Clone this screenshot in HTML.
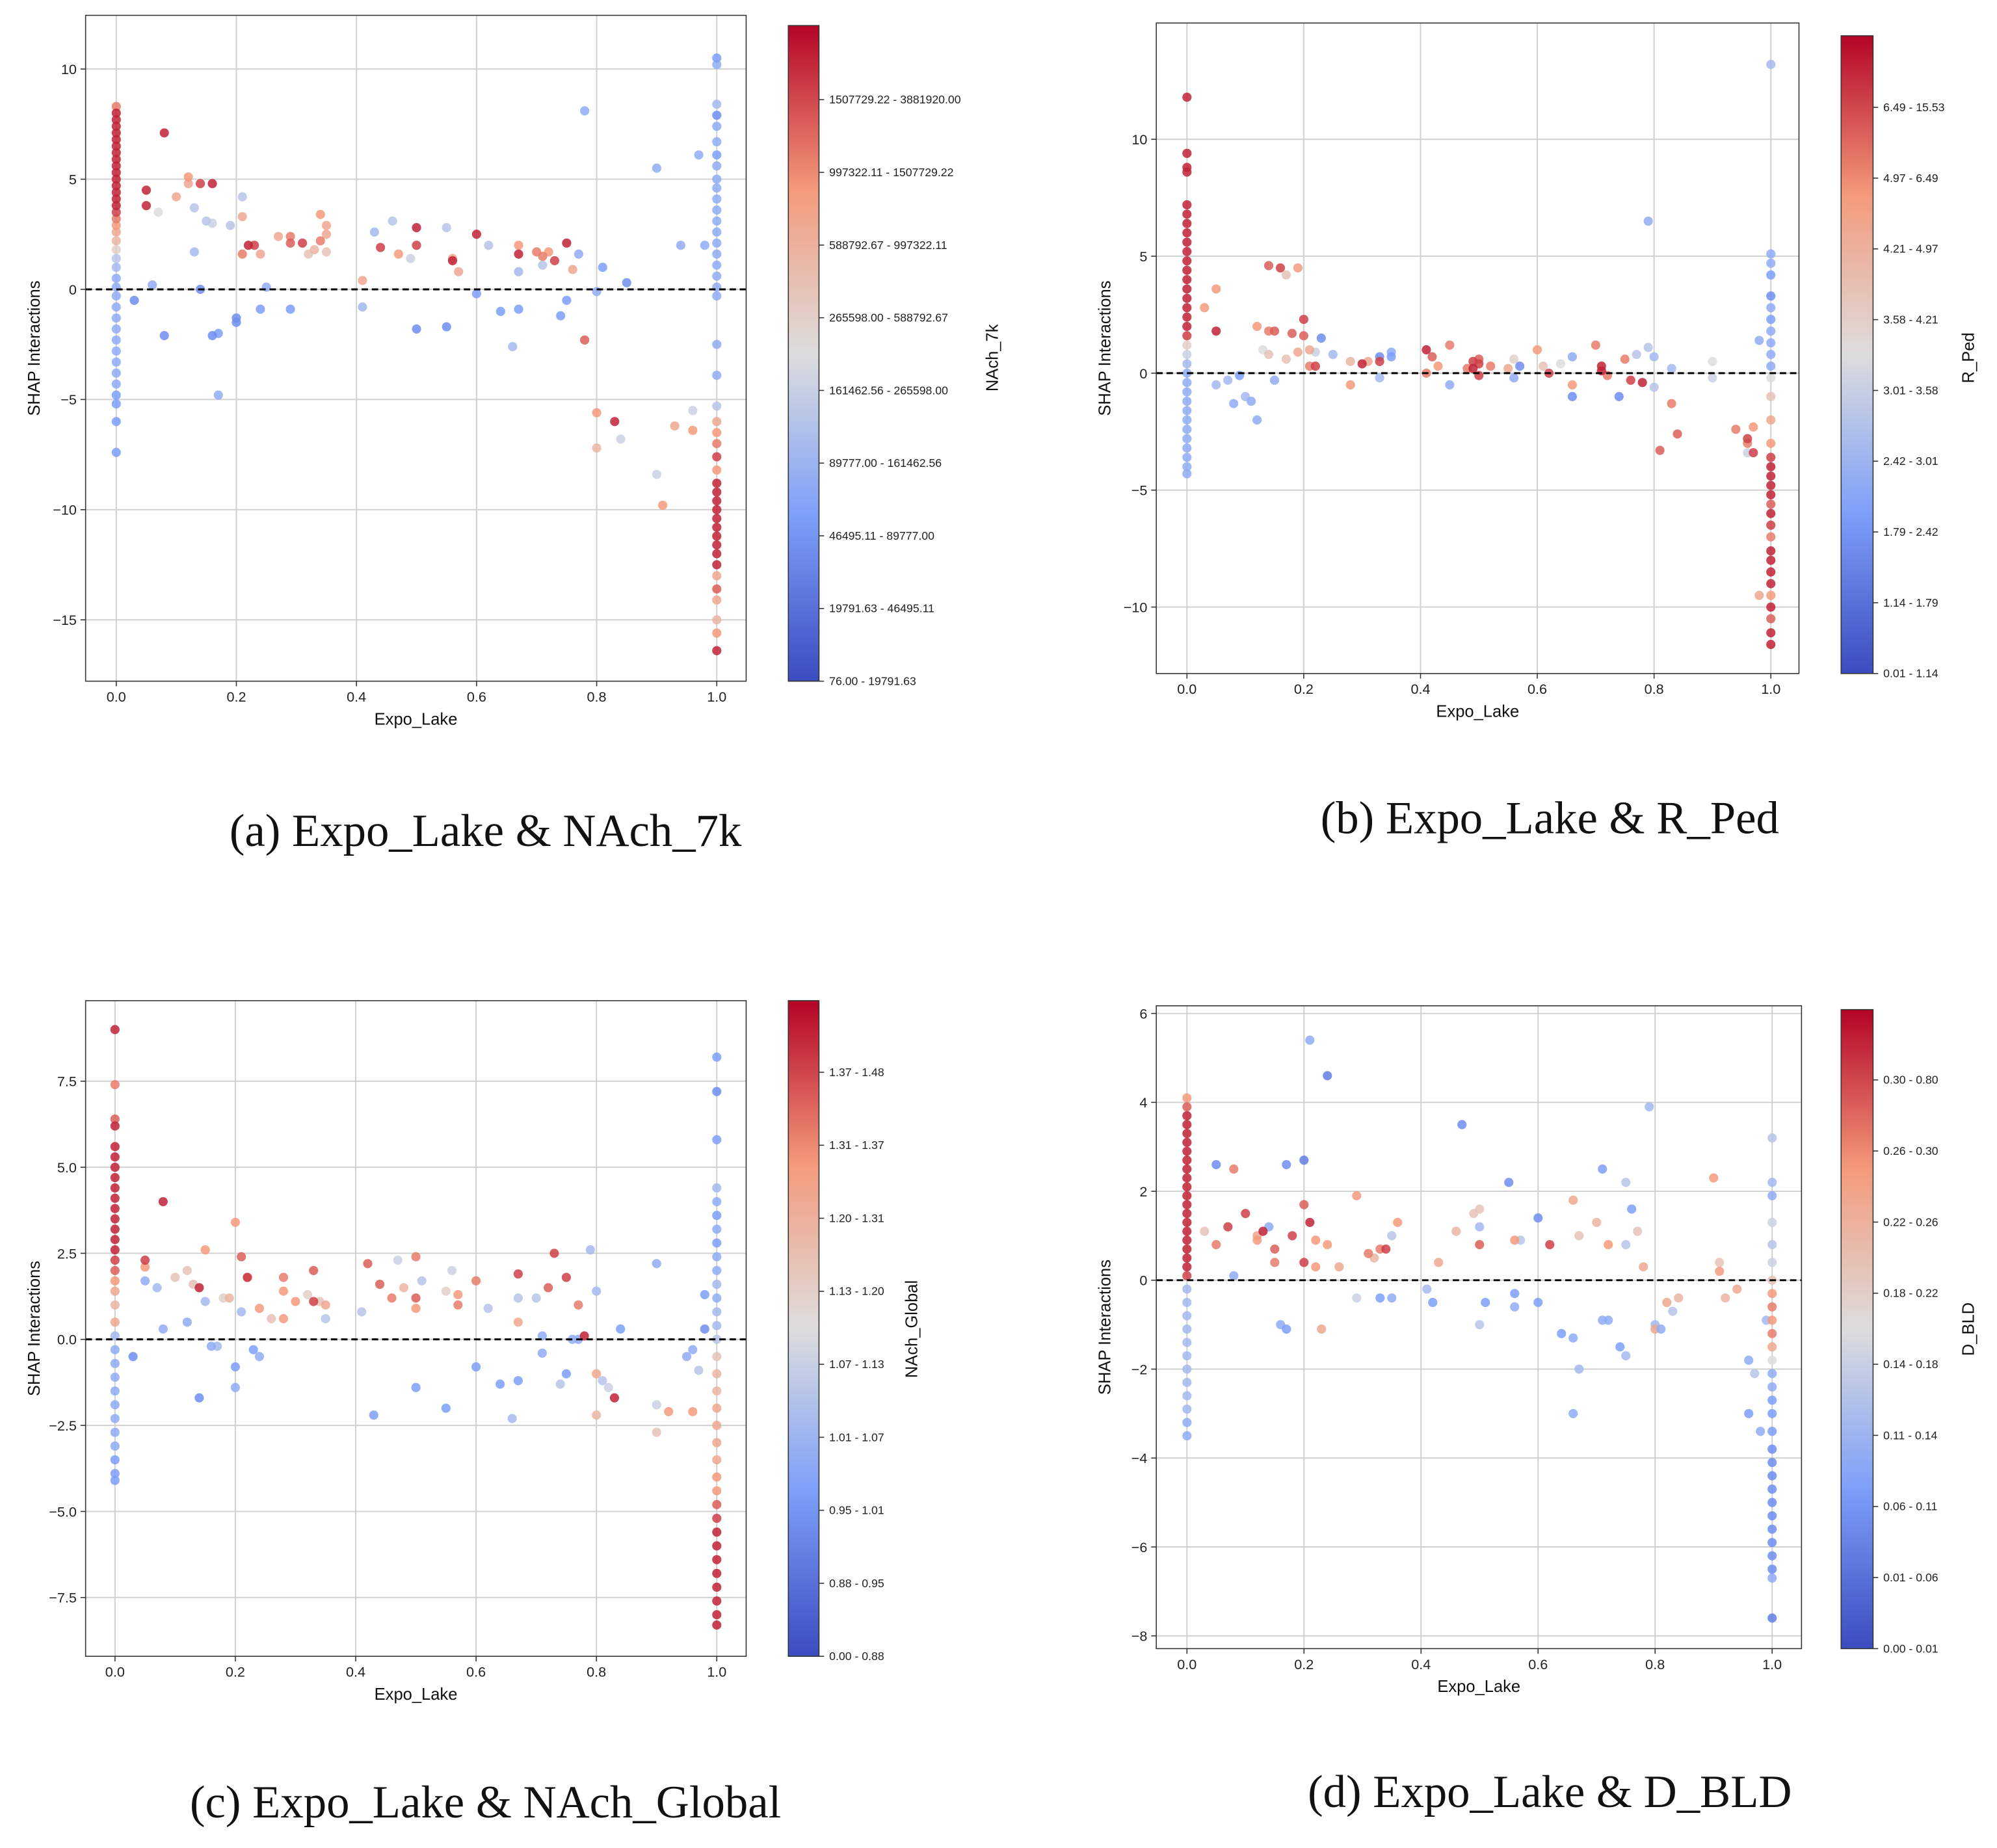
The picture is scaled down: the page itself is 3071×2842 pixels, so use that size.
<!DOCTYPE html>
<html><head><meta charset="utf-8"><style>
html,body{margin:0;padding:0;background:#fff;}
svg{display:block;}
text{font-family:"Liberation Sans","Noto Sans CJK SC",sans-serif;}
text.cap{font-family:"Liberation Serif",serif;}
</style></head><body>
<svg id="fig" width="3071" height="2842" viewBox="0 0 1563 1446" preserveAspectRatio="none" xmlns="http://www.w3.org/2000/svg">
<defs>
<linearGradient id="cw" x1="0" y1="1" x2="0" y2="0">
<stop offset="0" stop-color="rgb(59,76,192)"/>
<stop offset="0.25" stop-color="rgb(124,159,249)"/>
<stop offset="0.5" stop-color="rgb(221,221,221)"/>
<stop offset="0.75" stop-color="rgb(244,154,123)"/>
<stop offset="1" stop-color="rgb(180,4,38)"/>
</linearGradient>
</defs>
</svg>
<script>
// ---------- data ----------
const xTicks = [0, 0.2, 0.4, 0.6, 0.8, 1.0];
const xTickLabels = ["0.0","0.2","0.4","0.6","0.8","1.0"];

const yTicksA = [10,5,0,-5,-10,-15];
const yTickLabelsA = ["10","5","0","−5","−10","−15"];
const cbLabelsA = ["76.00 - 19791.63","19791.63 - 46495.11","46495.11 - 89777.00","89777.00 - 161462.56","161462.56 - 265598.00","265598.00 - 588792.67","588792.67 - 997322.11","997322.11 - 1507729.22","1507729.22 - 3881920.00"];
const ptsA = [[0.03,-0.5,.2],[0.05,4.5,.95],[0.05,3.8,.95],[0.06,0.2,.3],[0.07,3.5,.5],[0.08,7.1,.95],[0.08,-2.1,.2],[0.1,4.2,.7],[0.12,5.1,.75],[0.12,4.8,.7],[0.13,1.7,.35],[0.13,3.7,.4],[0.14,0,.2],[0.14,4.8,.9],[0.15,3.1,.4],[0.16,4.8,.95],[0.16,3,.45],[0.16,-2.1,.2],[0.17,-2,.25],[0.17,-4.8,.3],[0.19,2.9,.4],[0.2,-1.3,.2],[0.2,-1.5,.2],[0.21,4.2,.4],[0.21,3.3,.7],[0.21,1.6,.8],[0.22,2,.95],[0.23,2,.9],[0.24,-0.9,.25],[0.24,1.6,.7],[0.25,0.1,.3],[0.27,2.4,.7],[0.29,2.4,.8],[0.29,2.1,.85],[0.29,-0.9,.25],[0.31,2.1,.9],[0.32,1.6,.6],[0.33,1.8,.65],[0.34,3.4,.75],[0.34,2.2,.8],[0.35,2.9,.7],[0.35,1.7,.6],[0.35,2.5,.7],[0.41,0.4,.7],[0.41,-0.8,.35],[0.43,2.6,.35],[0.44,1.9,.9],[0.46,3.1,.4],[0.47,1.6,.75],[0.49,1.4,.45],[0.5,2.8,.95],[0.5,2,.9],[0.5,-1.8,.2],[0.55,-1.7,.2],[0.55,2.8,.4],[0.56,1.4,.7],[0.56,1.3,.95],[0.57,0.8,.7],[0.6,2.5,.95],[0.6,-0.2,.25],[0.62,2,.4],[0.64,-1,.25],[0.66,-2.6,.35],[0.67,-0.9,.25],[0.67,2,.75],[0.67,1.6,.95],[0.67,0.8,.35],[0.7,1.7,.8],[0.71,1.1,.4],[0.71,1.5,.8],[0.72,1.7,.75],[0.73,1.3,.9],[0.74,-1.2,.25],[0.75,-0.5,.25],[0.75,2.1,.95],[0.76,0.9,.7],[0.77,1.6,.3],[0.78,-2.3,.85],[0.78,8.1,.3],[0.8,-0.1,.3],[0.8,-5.6,.75],[0.8,-7.2,.65],[0.81,1,.25],[0.83,-6,.95],[0.84,-6.8,.45],[0.85,0.3,.2],[0.9,-8.4,.45],[0.9,5.5,.3],[0.91,-9.8,.75],[0.93,-6.2,.7],[0.94,2,.3],[0.96,-6.4,.75],[0.96,-5.5,.45],[0.97,6.1,.3],[0.98,2,.3]];
const colA0 = [[8.3,.8],[8.0,.95],[7.7,.95],[7.4,.95],[7.1,.95],[6.8,.95],[6.5,.95],[6.2,.95],[5.9,.95],[5.6,.95],[5.3,.95],[5.0,.95],[4.7,.95],[4.4,.95],[4.1,.95],[3.8,.95],[3.5,.9],[3.2,.8],[2.9,.75],[2.6,.7],[2.2,.65],[1.8,.55],[1.4,.4],[1.0,.35],[0.5,.3],[0.1,.3],[-0.3,.3],[-0.8,.3],[-1.3,.3],[-1.8,.3],[-2.3,.3],[-2.8,.3],[-3.3,.3],[-3.8,.3],[-4.3,.3],[-4.8,.25],[-5.2,.25],[-6.0,.25],[-7.4,.25]];
const colA1 = [[10.5,.25],[10.2,.3],[8.4,.35],[7.9,.2],[7.4,.3],[6.7,.3],[6.1,.25],[5.6,.3],[5.0,.3],[4.6,.3],[4.1,.3],[3.6,.3],[3.1,.3],[2.6,.3],[2.1,.3],[1.6,.3],[1.1,.3],[0.6,.3],[0.1,.3],[-0.3,.3],[-2.5,.3],[-3.9,.3],[-5.3,.4],[-6.0,.7],[-6.5,.75],[-7.0,.8],[-7.6,.9],[-8.2,.75],[-8.8,.95],[-9.2,.95],[-9.6,.95],[-10.0,.95],[-10.4,.95],[-10.8,.95],[-11.2,.95],[-11.6,.95],[-12.0,.95],[-12.5,.95],[-13.0,.7],[-13.6,.85],[-14.1,.7],[-15.0,.65],[-15.6,.75],[-16.4,.95]];

const yTicksB = [10,5,0,-5,-10];
const yTickLabelsB = ["10","5","0","−5","−10"];
const cbLabelsB = ["0.01 - 1.14","1.14 - 1.79","1.79 - 2.42","2.42 - 3.01","3.01 - 3.58","3.58 - 4.21","4.21 - 4.97","4.97 - 6.49","6.49 - 15.53"];
const ptsB = [[0.03,2.8,.75],[0.05,3.6,.75],[0.05,1.8,.95],[0.05,-0.5,.35],[0.07,-0.3,.35],[0.08,-1.3,.3],[0.09,-0.1,.25],[0.1,-1,.35],[0.11,-1.2,.3],[0.12,-2,.3],[0.12,2,.75],[0.13,1,.5],[0.14,4.6,.85],[0.14,1.8,.8],[0.14,0.8,.6],[0.15,1.8,.85],[0.15,-0.3,.3],[0.16,4.5,.9],[0.17,4.2,.6],[0.17,0.6,.6],[0.18,1.7,.85],[0.19,0.9,.7],[0.19,4.5,.75],[0.2,2.3,.9],[0.2,1.6,.85],[0.21,1,.7],[0.21,0.3,.8],[0.22,0.3,.9],[0.22,0.9,.45],[0.23,1.5,.2],[0.25,0.8,.35],[0.28,0.5,.65],[0.28,-0.5,.75],[0.3,0.4,.95],[0.31,0.5,.7],[0.33,0.7,.2],[0.33,0.5,.9],[0.33,-0.2,.35],[0.35,0.9,.3],[0.35,0.7,.25],[0.41,1,.95],[0.41,0,.8],[0.42,0.7,.85],[0.43,0.3,.75],[0.45,1.2,.8],[0.45,-0.5,.3],[0.48,0.2,.8],[0.49,0.5,.9],[0.49,0.2,.95],[0.5,0.6,.85],[0.5,0.4,.9],[0.5,-0.1,.9],[0.52,0.3,.8],[0.55,0.2,.7],[0.56,0.6,.55],[0.56,-0.2,.3],[0.57,0.3,.2],[0.6,1,.75],[0.61,0.3,.6],[0.62,0,.9],[0.64,0.4,.5],[0.66,-1,.2],[0.66,0.7,.3],[0.66,-0.5,.75],[0.7,1.2,.8],[0.71,0.1,.95],[0.71,0.3,.95],[0.72,-0.1,.8],[0.74,-1,.2],[0.75,0.6,.8],[0.76,-0.3,.9],[0.77,0.8,.4],[0.78,-0.4,.95],[0.79,6.5,.3],[0.79,1.1,.4],[0.8,0.7,.35],[0.8,-0.6,.4],[0.81,-3.3,.85],[0.83,-1.3,.8],[0.83,0.2,.35],[0.84,-2.6,.85],[0.9,-0.2,.45],[0.9,0.5,.5],[0.94,-2.4,.8],[0.96,-3,.8],[0.96,-2.8,.9],[0.96,-3.4,.45],[0.97,-3.4,.9],[0.97,-2.3,.75],[0.98,1.4,.3],[0.98,-9.5,.7]];
const colB0 = [[11.8,.95],[9.4,.95],[8.8,.95],[8.6,.95],[7.2,.95],[6.8,.95],[6.4,.95],[6.0,.95],[5.6,.95],[5.2,.95],[4.8,.95],[4.4,.95],[4.0,.95],[3.6,.95],[3.2,.95],[2.8,.95],[2.4,.95],[2.0,.95],[1.6,.9],[1.2,.55],[0.8,.45],[0.4,.35],[0.0,.3],[-0.4,.3],[-0.8,.3],[-1.2,.3],[-1.6,.3],[-2.0,.3],[-2.4,.3],[-2.8,.3],[-3.2,.3],[-3.6,.3],[-4.0,.3],[-4.3,.3]];
const colB1 = [[13.2,.35],[5.1,.3],[4.7,.3],[4.2,.25],[3.3,.2],[2.8,.3],[2.3,.25],[1.8,.3],[1.3,.3],[0.8,.3],[0.3,.3],[-0.2,.5],[-1.0,.6],[-2.0,.7],[-3.0,.75],[-3.6,.9],[-4.0,.95],[-4.4,.95],[-4.8,.95],[-5.2,.95],[-5.6,.85],[-6.0,.95],[-6.5,.9],[-7.0,.8],[-7.6,.95],[-8.0,.95],[-8.5,.95],[-9.0,.95],[-9.5,.75],[-10.0,.95],[-10.5,.85],[-11.1,.95],[-11.6,.95]];

const yTicksC = [7.5,5,2.5,0,-2.5,-5,-7.5];
const yTickLabelsC = ["7.5","5.0","2.5","0.0","−2.5","−5.0","−7.5"];
const cbLabelsC = ["0.00 - 0.88","0.88 - 0.95","0.95 - 1.01","1.01 - 1.07","1.07 - 1.13","1.13 - 1.20","1.20 - 1.31","1.31 - 1.37","1.37 - 1.48"];
const ptsC = [[0.03,-0.5,.2],[0.05,2.3,.9],[0.05,2.1,.75],[0.05,1.7,.3],[0.07,1.5,.35],[0.08,4,.95],[0.08,0.3,.3],[0.1,1.8,.6],[0.12,2,.6],[0.12,0.5,.3],[0.13,1.6,.6],[0.14,-1.7,.2],[0.14,1.5,.95],[0.15,2.6,.75],[0.15,1.1,.35],[0.16,-0.2,.3],[0.17,-0.2,.35],[0.18,1.2,.55],[0.19,1.2,.65],[0.2,-0.8,.25],[0.2,-1.4,.3],[0.2,3.4,.75],[0.21,0.8,.35],[0.21,2.4,.85],[0.22,1.8,.85],[0.22,1.8,.9],[0.23,-0.3,.25],[0.24,-0.5,.3],[0.24,0.9,.75],[0.26,0.6,.6],[0.28,1.8,.8],[0.28,0.6,.75],[0.28,1.4,.75],[0.3,1.1,.75],[0.32,1.3,.55],[0.33,2,.85],[0.33,1.1,.9],[0.34,1.1,.6],[0.35,1,.7],[0.35,0.6,.4],[0.41,0.8,.4],[0.42,2.2,.85],[0.43,-2.2,.25],[0.44,1.6,.85],[0.46,1.2,.8],[0.47,2.3,.45],[0.48,1.5,.65],[0.5,-1.4,.25],[0.5,2.4,.8],[0.5,1.2,.85],[0.5,0.9,.75],[0.51,1.7,.4],[0.55,-2,.25],[0.55,1.4,.55],[0.56,2,.45],[0.57,1.3,.75],[0.57,1,.8],[0.6,-0.8,.25],[0.6,1.7,.8],[0.62,0.9,.4],[0.64,-1.3,.25],[0.66,-2.3,.35],[0.67,-1.2,.25],[0.67,1.9,.9],[0.67,0.5,.7],[0.67,1.2,.4],[0.7,1.2,.4],[0.71,0.1,.3],[0.71,-0.4,.3],[0.72,1.5,.85],[0.73,2.5,.9],[0.74,-1.3,.4],[0.75,1.8,.9],[0.75,-1,.25],[0.76,0,.3],[0.77,0,.3],[0.77,1,.8],[0.78,0.1,.95],[0.79,2.6,.35],[0.8,1.4,.35],[0.8,-1,.7],[0.8,-2.2,.65],[0.81,-1.2,.4],[0.82,-1.4,.45],[0.83,-1.7,.95],[0.84,0.3,.25],[0.9,-1.9,.45],[0.9,-2.7,.6],[0.92,-2.1,.75],[0.9,2.2,.3],[0.95,-0.5,.3],[0.96,-0.3,.3],[0.96,-2.1,.75],[0.97,-0.9,.4],[0.98,0.3,.2],[0.98,1.3,.25]];
const colC0 = [[9.0,.95],[7.4,.8],[6.4,.85],[6.2,.95],[5.6,.95],[5.3,.95],[5.0,.95],[4.7,.95],[4.4,.95],[4.1,.95],[3.8,.95],[3.5,.95],[3.2,.95],[2.9,.95],[2.6,.95],[2.3,.9],[2.0,.85],[1.7,.75],[1.4,.7],[1.0,.65],[0.5,.7],[0.1,.35],[-0.3,.3],[-0.7,.3],[-1.1,.3],[-1.5,.3],[-1.9,.3],[-2.3,.3],[-2.7,.3],[-3.1,.3],[-3.5,.25],[-3.9,.25],[-4.1,.25]];
const colC1 = [[8.2,.25],[7.2,.2],[5.8,.25],[4.4,.35],[4.0,.3],[3.6,.25],[3.2,.3],[2.8,.25],[2.4,.3],[2.0,.3],[1.6,.35],[1.2,.3],[0.8,.35],[0.4,.35],[0.0,.4],[-0.5,.6],[-1.0,.65],[-1.5,.65],[-2.0,.7],[-2.5,.7],[-3.0,.7],[-3.5,.7],[-4.0,.75],[-4.4,.75],[-4.8,.85],[-5.2,.9],[-5.6,.95],[-6.0,.95],[-6.4,.95],[-6.8,.95],[-7.2,.95],[-7.6,.95],[-8.0,.95],[-8.3,.95]];

const yTicksD = [6,4,2,0,-2,-4,-6,-8];
const yTickLabelsD = ["6","4","2","0","−2","−4","−6","−8"];
const cbLabelsD = ["0.00 - 0.01","0.01 - 0.06","0.06 - 0.11","0.11 - 0.14","0.14 - 0.18","0.18 - 0.22","0.22 - 0.26","0.26 - 0.30","0.30 - 0.80"];
const ptsD = [[0.03,1.1,.6],[0.05,2.6,.2],[0.05,0.8,.8],[0.07,1.2,.9],[0.08,0.1,.3],[0.08,2.5,.8],[0.1,1.5,.9],[0.12,1,.7],[0.12,0.9,.75],[0.13,1.1,.95],[0.14,1.2,.3],[0.15,0.4,.8],[0.15,0.7,.85],[0.16,-1,.3],[0.17,-1.1,.25],[0.17,2.6,.2],[0.18,1,.9],[0.2,2.7,.15],[0.2,1.7,.85],[0.2,0.4,.9],[0.21,5.4,.3],[0.21,1.3,.95],[0.22,0.3,.75],[0.22,0.9,.75],[0.23,-1.1,.7],[0.24,4.6,.15],[0.24,0.8,.75],[0.26,0.3,.7],[0.29,1.9,.75],[0.29,-0.4,.45],[0.31,0.6,.8],[0.32,0.5,.65],[0.33,0.7,.8],[0.33,-0.4,.25],[0.34,0.7,.9],[0.35,1,.4],[0.35,-0.4,.3],[0.36,1.3,.75],[0.41,-0.2,.35],[0.42,-0.5,.25],[0.43,0.4,.7],[0.46,1.1,.65],[0.47,3.5,.2],[0.49,1.5,.6],[0.5,1.6,.6],[0.5,-1,.4],[0.5,0.8,.85],[0.5,1.2,.35],[0.51,-0.5,.25],[0.55,2.2,.2],[0.56,0.9,.75],[0.56,-0.3,.25],[0.56,-0.6,.3],[0.57,0.9,.4],[0.6,1.4,.2],[0.6,-0.5,.25],[0.62,0.8,.9],[0.64,-1.2,.25],[0.66,1.8,.7],[0.66,-3,.3],[0.66,-1.3,.3],[0.67,-2,.35],[0.67,1,.6],[0.7,1.3,.65],[0.71,2.5,.25],[0.71,-0.9,.3],[0.72,-0.9,.3],[0.72,0.8,.75],[0.74,-1.5,.25],[0.75,-1.7,.35],[0.75,0.8,.4],[0.75,2.2,.4],[0.76,1.6,.25],[0.77,1.1,.6],[0.78,0.3,.7],[0.79,3.9,.35],[0.8,-1,.35],[0.8,-1.1,.7],[0.81,-1.1,.3],[0.82,-0.5,.7],[0.83,-0.7,.4],[0.84,-0.4,.65],[0.9,2.3,.75],[0.91,0.4,.6],[0.91,0.2,.75],[0.92,-0.4,.65],[0.94,-0.2,.7],[0.96,-1.8,.3],[0.96,-3,.25],[0.97,-2.1,.4],[0.98,-3.4,.3],[0.99,-0.9,.35]];
const colD0 = [[4.1,.75],[3.9,.85],[3.7,.95],[3.5,.95],[3.3,.95],[3.1,.95],[2.9,.95],[2.7,.95],[2.5,.95],[2.3,.95],[2.1,.95],[1.9,.95],[1.7,.95],[1.5,.95],[1.3,.95],[1.1,.95],[0.9,.95],[0.7,.95],[0.5,.95],[0.3,.95],[0.1,.9],[-0.2,.35],[-0.5,.35],[-0.8,.35],[-1.1,.35],[-1.4,.35],[-1.7,.35],[-2.0,.35],[-2.3,.35],[-2.6,.35],[-2.9,.35],[-3.2,.3],[-3.5,.3]];
const colD1 = [[3.2,.4],[2.2,.35],[1.9,.3],[1.3,.45],[0.8,.4],[0.4,.45],[0.0,.6],[-0.3,.75],[-0.6,.8],[-0.9,.75],[-1.2,.8],[-1.5,.7],[-1.8,.5],[-2.1,.3],[-2.4,.3],[-2.7,.25],[-3.0,.25],[-3.4,.25],[-3.8,.2],[-4.1,.2],[-4.4,.2],[-4.7,.2],[-5.0,.2],[-5.3,.2],[-5.6,.2],[-5.9,.2],[-6.2,.2],[-6.5,.2],[-6.7,.3],[-7.6,.15]];

// ---------- layout ----------
const panels = [
 {id:'a', pts:ptsA, c0:colA0, c1:colA1, yT:yTicksA, yL:yTickLabelsA, cb:cbLabelsA, cbT:'NAch_7k', cap:'(a) Expo_Lake & NAch_7k',
  box:[67,12,584,533], x0:91, x1:561, yv:[10,-15], yp:[54,485], cbBox:[617,20,641,533], cbY:[533,78], cbTitle:[781,280], capPos:[380,662]},
 {id:'b', pts:ptsB, c0:colB0, c1:colB1, yT:yTicksB, yL:yTickLabelsB, cb:cbLabelsB, cbT:'R_Ped', cap:'(b) Expo_Lake & R_Ped',
  box:[905,18,1408,527], x0:929, x1:1386, yv:[10,-10], yp:[109,475], cbBox:[1441,28,1466,527], cbY:[527,84], cbTitle:[1545,280], capPos:[1213,652]},
 {id:'c', pts:ptsC, c0:colC0, c1:colC1, yT:yTicksC, yL:yTickLabelsC, cb:cbLabelsC, cbT:'NAch_Global', cap:'(c) Expo_Lake & NAch_Global',
  box:[67,783,584,1296], x0:90, x1:561, yv:[7.5,-7.5], yp:[846,1250], cbBox:[617,783,641,1296], cbY:[1296,839], cbTitle:[718,1040], capPos:[380,1422]},
 {id:'d', pts:ptsD, c0:colD0, c1:colD1, yT:yTicksD, yL:yTickLabelsD, cb:cbLabelsD, cbT:'D_BLD', cap:'(d) Expo_Lake & D_BLD',
  box:[905,787,1410,1290], x0:929, x1:1387, yv:[6,-8], yp:[793,1280], cbBox:[1441,790,1466,1290], cbY:[1290,845], cbTitle:[1545,1040], capPos:[1213,1414]}
];

const NS='http://www.w3.org/2000/svg';
const svg=document.getElementById('fig');
function mk(tag, attrs, parent){
  const e=document.createElementNS(NS,tag);
  for(const k in attrs) e.setAttribute(k,attrs[k]);
  (parent||svg).appendChild(e); return e;
}
const stops=[[0,[59,76,192]],[0.25,[124,159,249]],[0.5,[221,221,221]],[0.75,[244,154,123]],[1,[180,4,38]]];
function cw(t){
  t=Math.max(0,Math.min(1,t));
  for(let i=0;i<stops.length-1;i++){
    const [a,ca]=stops[i],[b,cb]=stops[i+1];
    if(t<=b){const f=(t-a)/(b-a);return 'rgb('+ca.map((v,j)=>Math.round(v+(cb[j]-v)*f)).join(',')+')';}
  }
  return 'rgb(180,4,38)';
}

panels.forEach(p=>{
  const g=mk('g',{});
  
  
  const sx=v=>p.x0+(p.x1-p.x0)*v;
  const sy=v=>p.yp[0]+(p.yp[1]-p.yp[0])*(v-p.yv[0])/(p.yv[1]-p.yv[0]);
  const [L,T,R,B]=p.box;
  xTicks.forEach((t,i)=>{
    const gl=mk('line',{x1:sx(t),x2:sx(t),y1:T,y2:B,stroke:'#d0d0d0','stroke-width':1},g);
    
    
    mk('line',{x1:sx(t),x2:sx(t),y1:B,y2:B+4,stroke:'#333','stroke-width':0.8},g);
    const tl=mk('text',{x:sx(t),y:B+16,'font-size':11,'text-anchor':'middle',fill:'#222'},g);
    tl.textContent=xTickLabels[i];
    
    
  });
  p.yT.forEach((t,i)=>{
    const gl=mk('line',{x1:L,x2:R,y1:sy(t),y2:sy(t),stroke:'#d0d0d0','stroke-width':1},g);
    
    
    mk('line',{x1:L-4,x2:L,y1:sy(t),y2:sy(t),stroke:'#333','stroke-width':0.8},g);
    const tl=mk('text',{x:L-7,y:sy(t)+4,'font-size':11,'text-anchor':'end',fill:'#222'},g);
    tl.textContent=p.yL[i];
    
    
  });
  const all=[];
  p.c0.forEach(d=>all.push([0,d[0],d[1]]));
  p.c1.forEach(d=>all.push([1,d[0],d[1]]));
  p.pts.forEach(d=>all.push(d));
  all.sort((a,b)=>Math.abs(a[2]-0.5)-Math.abs(b[2]-0.5));
  all.forEach(d=>{
    const c=mk('circle',{cx:sx(d[0]),cy:sy(d[1]),r:3.6,fill:cw(d[2]),'fill-opacity':0.85},g);
    
    
  });
  const z=mk('line',{x1:L,x2:R,y1:sy(0),y2:sy(0),stroke:'#000','stroke-width':1.5,'stroke-dasharray':'5,3'},g);
  
  
  const fr=mk('rect',{x:L,y:T,width:R-L,height:B-T,fill:'none',stroke:'#333','stroke-width':0.8},g);
  
  
  const xt=mk('text',{x:(L+R)/2,y:B+34,'font-size':13,'text-anchor':'middle',fill:'#111'},g);
  xt.textContent='Expo_Lake';
  
  
  const yx=L-36, yy=(T+B)/2;
  const yt=mk('text',{x:yx,y:yy,'font-size':13,'text-anchor':'middle',fill:'#111',transform:'rotate(-90 '+yx+' '+yy+')'},g);
  yt.textContent='SHAP Interactions';
  
  
  const [cl,ct,cr,cbm]=p.cbBox;
  const cbr=mk('rect',{x:cl,y:ct,width:cr-cl,height:cbm-ct,fill:'url(#cw)',stroke:'#333','stroke-width':0.8},g);
  
  
  p.cb.forEach((lab,i)=>{
    const y=p.cbY[0]+(p.cbY[1]-p.cbY[0])*i/(p.cb.length-1);
    mk('line',{x1:cr,x2:cr+4,y1:y,y2:y,stroke:'#333','stroke-width':0.8},g);
    const tl=mk('text',{x:cr+8,y:y+3,'font-size':9,fill:'#222'},g);
    tl.textContent=lab;
    
    
  });
  const [tx,ty]=p.cbTitle;
  const ct2=mk('text',{x:tx,y:ty,'font-size':13,'text-anchor':'middle',fill:'#111',transform:'rotate(-90 '+tx+' '+ty+')'},g);
  ct2.textContent=p.cbT;
  
  
  const cap=mk('text',{x:p.capPos[0],y:p.capPos[1],'font-size':36,'text-anchor':'middle',fill:'#111',class:'cap',style:'font-family:"Liberation Serif",serif'},g);
  cap.textContent=p.cap;
  
  
});
</script>
</body></html>
